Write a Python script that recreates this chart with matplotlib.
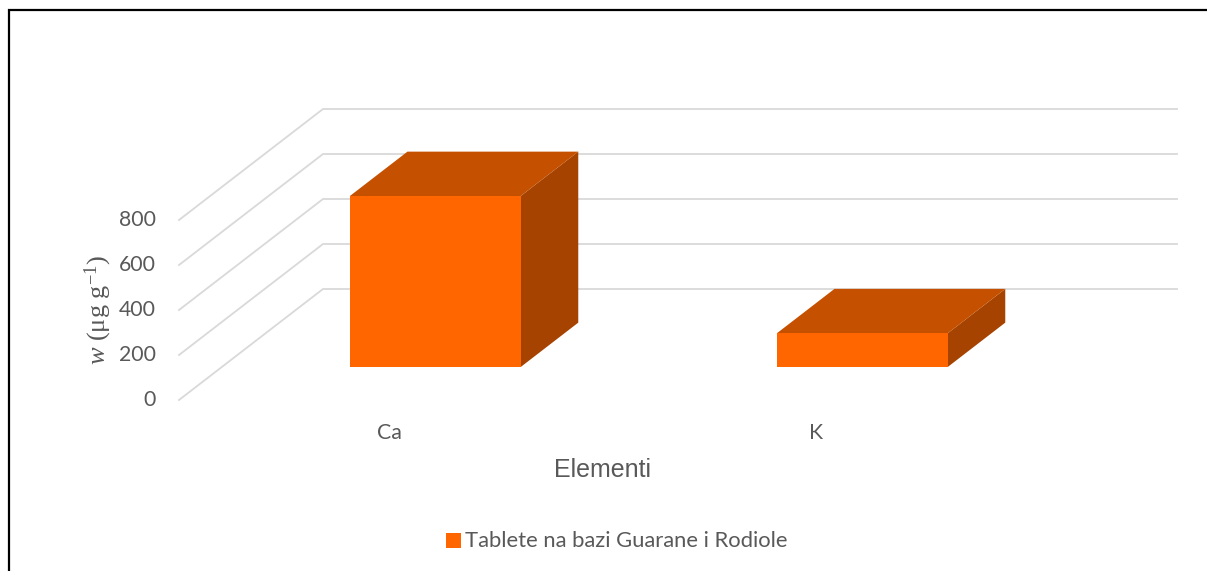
import matplotlib.pyplot as plt
from matplotlib.patches import Polygon, Rectangle

# data
categories = ['Ca', 'K']
values = [760, 150]
y_ticks = [0, 200, 400, 600, 800]
series_name = 'Tablete na bazi Guarane i Rodiole'

# pseudo-3d layout (pixel space)
origin_x, origin_y = 179, 400
cat_width = 427
px_per_unit = 0.225
depth_dx, depth_dy = 144, 111
bar_frac = 0.40
bar_d0, bar_d1 = 0.297, 0.697

front_col = '#FF6600'
top_col = '#C55000'
side_col = '#A64300'
grid_col = '#D9D9D9'
text_col = '#595959'


def proj(xc, v, d):
	x = origin_x + xc * cat_width + d * depth_dx
	y = origin_y - v * px_per_unit - d * depth_dy
	return x, y


plt.rcParams['mathtext.fontset'] = 'custom'
plt.rcParams['mathtext.rm'] = 'Liberation Serif'
plt.rcParams['mathtext.it'] = 'Liberation Serif:italic'

fig = plt.figure(figsize=(12.07, 5.71), dpi=100)
ax = fig.add_axes([0, 0, 1, 1])
ax.set_xlim(0, 1207)
ax.set_ylim(571, 0)
ax.axis('off')

n = len(categories)
# gridlines: floor/side diagonal + back wall
for v in y_ticks:
	pts = [proj(0, v, 0), proj(0, v, 1), proj(n, v, 1)]
	ax.plot([p[0] for p in pts], [p[1] for p in pts], color=grid_col, lw=1.3, zorder=1)
	x, y = proj(0, v, 0)
	ax.text(x - 23, y, str(v), ha='right', va='center', fontsize=15.3, family='Lato', color=text_col)

# bars
for i, (cat, val) in enumerate(zip(categories, values)):
	x0 = i + 0.5 - bar_frac / 2
	x1 = i + 0.5 + bar_frac / 2
	front = [proj(x0, 0, bar_d0), proj(x1, 0, bar_d0), proj(x1, val, bar_d0), proj(x0, val, bar_d0)]
	top = [proj(x0, val, bar_d0), proj(x1, val, bar_d0), proj(x1, val, bar_d1), proj(x0, val, bar_d1)]
	side = [proj(x1, 0, bar_d0), proj(x1, 0, bar_d1), proj(x1, val, bar_d1), proj(x1, val, bar_d0)]
	ax.add_patch(Polygon(side, closed=True, facecolor=side_col, edgecolor='none', zorder=3))
	ax.add_patch(Polygon(top, closed=True, facecolor=top_col, edgecolor='none', zorder=3))
	ax.add_patch(Polygon(front, closed=True, facecolor=front_col, edgecolor='none', zorder=4))
	cx, cy = proj(i + 0.5, 0, 0)
	ax.text(cx - 3, cy + 33, cat, ha='center', va='center', fontsize=15.3, family='Lato', color=text_col)

# axis titles
ax.text(603, 470, 'Elementi', ha='center', va='center', fontsize=18, family='Liberation Sans', color=text_col)
ax.text(98, 310, r'$\mathit{w}$ (μg g$^{\mathrm{-1}}$)', rotation=90, ha='center', va='center',
		fontsize=19, family='Liberation Serif', color=text_col)

# legend
ax.add_patch(Rectangle((446, 533), 15, 15, facecolor=front_col, edgecolor='none'))
ax.text(465, 541, series_name, ha='left', va='center', fontsize=15.8, family='Lato', color=text_col)

# frame (top + left edges)
ax.plot([9, 9, 1207], [571, 10, 10], color='black', lw=1.6, solid_capstyle='butt', solid_joinstyle='miter')

plt.savefig('out.png', dpi=100)
